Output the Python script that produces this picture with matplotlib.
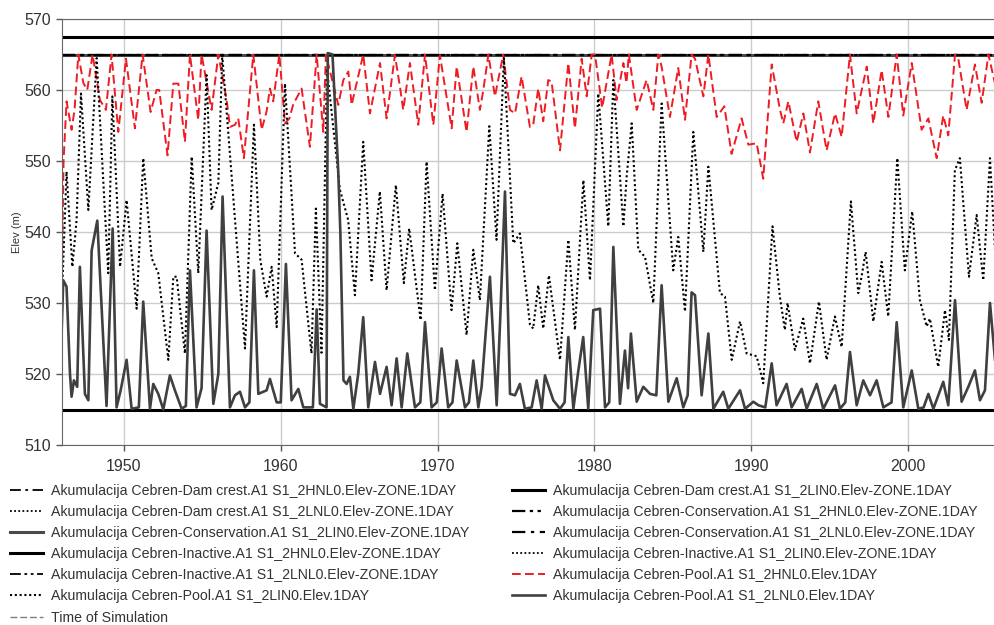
import matplotlib
matplotlib.use("Agg")
import matplotlib.pyplot as plt
from matplotlib.lines import Line2D

plt.rcParams['font.family'] = ['Liberation Sans', 'DejaVu Sans']

# zone elevations (m)
dam_crest_elev = 567.5
conservation_elev = 565.0
inactive_elev = 515.0

# Pool elevation, scenario 2HNL0 (decimal year, m)
hnl0_years = [1946.0, 1946.15, 1946.34, 1946.66, 1946.85, 1947.09, 1947.41, 1947.66, 1948.0, 1948.47,
              1948.85, 1949.21, 1949.64, 1950.13, 1950.70, 1951.19, 1951.70, 1952.08, 1952.25, 1952.78,
              1953.15, 1953.47, 1953.89, 1954.21, 1954.74, 1954.95, 1955.59, 1956.02, 1956.55, 1956.76,
              1957.08, 1957.29, 1957.65, 1958.25, 1958.78, 1959.10, 1959.31, 1959.52, 1959.91, 1960.27,
              1960.55, 1960.80, 1961.33, 1961.86, 1962.29, 1962.71, 1962.88, 1963.67, 1963.99, 1964.31,
              1964.52, 1965.26, 1965.69, 1966.33, 1966.75, 1967.28, 1967.60, 1967.81, 1968.24, 1968.77,
              1969.20, 1969.73, 1970.15, 1970.90, 1971.22, 1971.85, 1972.28, 1972.70, 1972.92, 1973.24,
              1973.66, 1974.19, 1974.62, 1974.94, 1975.36, 1975.89, 1976.10, 1976.42, 1976.74, 1977.06,
              1977.27, 1977.81, 1978.34, 1978.76, 1979.19, 1979.51, 1979.83, 1980.04, 1980.50, 1981.10,
              1981.42, 1981.85, 1982.05, 1982.20, 1982.70, 1983.33, 1983.76, 1984.08, 1984.29, 1984.82,
              1985.35, 1985.78, 1986.20, 1986.42, 1986.95, 1987.27, 1987.80, 1988.29, 1988.75, 1989.39,
              1989.82, 1990.35, 1990.77, 1991.31, 1991.84, 1992.05, 1992.37, 1992.90, 1993.33, 1993.75,
              1994.28, 1994.81, 1995.35, 1995.77, 1996.30, 1996.73, 1997.37, 1997.79, 1998.32, 1998.75,
              1999.28, 1999.70, 2000.24, 2000.87, 2001.30, 2001.83, 2002.25, 2002.57, 2003.00, 2003.21,
              2003.74, 2004.27, 2004.70, 2005.13, 2005.55]
hnl0_elev = [527, 550, 558.4, 554.4, 557.2, 565, 561.0, 560.0, 565, 558.6,
             557.2, 565, 554.1, 564.4, 554.6, 565, 556.9, 560.0, 560.0, 550.8,
             560.9, 560.9, 552.7, 565, 555.8, 565, 557.2, 565, 558.6, 554.8,
             555.1, 556.0, 550.4, 565, 554.4, 557.0, 560.2, 558.4, 565, 555.3,
             556.0, 558.0, 560.2, 552.0, 565, 554.1, 565, 557.9, 561.4, 562.6,
             557.9, 565, 556.7, 563.8, 556.0, 564.9, 560.5, 557.2, 563.8, 555.1,
             565, 555.1, 564.9, 554.6, 563.3, 554.1, 563.3, 557.2, 560.0, 565,
             559.1, 565, 557.2, 556.7, 561.9, 554.8, 555.1, 560.2, 555.6, 561.4,
             561.2, 551.5, 563.8, 554.6, 564.4, 559.1, 565, 565, 557.5, 565,
             558.6, 563.8, 561.0, 565, 557.2, 561.4, 557.2, 565, 563.3, 556.2,
             563.1, 555.8, 565, 564.4, 559.1, 565, 556.2, 557.7, 551.0, 556.0,
             552.3, 552.5, 547.5, 563.6, 557.2, 555.3, 558.4, 552.7, 556.7, 551.2,
             558.4, 551.5, 556.7, 553.4, 565, 556.7, 563.3, 555.3, 562.8, 556.2,
             565, 556.4, 563.8, 554.4, 556.0, 550.4, 556.4, 553.6, 565, 564.4,
             557.2, 563.6, 558.2, 565, 560.9]

# Pool elevation, scenario 2LIN0
lin0_years = [1946.05, 1946.34, 1946.71, 1946.98, 1947.26, 1947.73, 1948.26, 1949.0, 1949.26, 1949.75,
              1950.17, 1950.81, 1951.23, 1951.77, 1952.19, 1952.83, 1953.15, 1953.36, 1953.89, 1954.32,
              1954.74, 1955.27, 1955.59, 1956.02, 1956.27, 1957.72, 1958.29, 1958.70, 1959.10, 1959.42,
              1959.74, 1960.27, 1960.91, 1961.33, 1961.96, 1962.24, 1962.60, 1962.95, 1963.77, 1964.30,
              1964.73, 1965.26, 1965.79, 1966.32, 1966.75, 1967.34, 1967.85, 1968.19, 1968.92, 1969.30,
              1969.83, 1970.32, 1970.89, 1971.26, 1971.85, 1972.28, 1972.70, 1973.30, 1973.76, 1974.23,
              1974.83, 1975.25, 1975.89, 1976.10, 1976.42, 1976.74, 1977.10, 1977.81, 1978.34, 1978.76,
              1979.30, 1979.72, 1980.25, 1980.89, 1981.21, 1981.85, 1982.06, 1982.38, 1982.80, 1983.23,
              1983.76, 1984.29, 1985.03, 1985.35, 1985.78, 1986.31, 1986.95, 1987.27, 1988.01, 1988.33,
              1988.76, 1989.29, 1989.71, 1990.35, 1990.77, 1991.36, 1991.83, 1992.15, 1992.32, 1992.79,
              1993.32, 1993.75, 1994.32, 1994.81, 1995.34, 1995.77, 1996.36, 1996.83, 1997.04, 1997.30,
              1997.79, 1998.32, 1998.74, 1999.32, 1999.80, 2000.27, 2000.76, 2001.19, 2001.40, 2001.93,
              2002.36, 2002.61, 2002.99, 2003.31, 2003.89, 2004.38, 2004.80, 2005.23, 2005.55]
lin0_elev = [531, 548.5, 535.1, 541.7, 559.5, 543.1, 564.5, 534.2, 559.1, 535.1,
             544.5, 529.2, 550.4, 536.3, 534.2, 522.0, 533.7, 533.7, 522.9, 550.6,
             534.2, 562.1, 543.1, 546.9, 564.9, 523.6, 555.1, 536.0, 530.9, 535.1,
             526.6, 560.9, 537.0, 536.1, 522.9, 543.3, 523.0, 563.0, 546.0, 541.7,
             531.1, 552.7, 533.2, 545.7, 531.8, 546.6, 532.8, 540.5, 527.6, 549.9,
             531.8, 545.4, 529.0, 538.4, 525.5, 537.5, 530.4, 554.9, 538.9, 564.5,
             538.4, 539.8, 527.0, 526.4, 532.5, 526.4, 533.9, 522.0, 538.9, 526.2,
             547.3, 533.2, 559.5, 540.8, 561.4, 540.8, 547.8, 555.3, 537.5, 536.5,
             530.0, 558.1, 534.6, 539.3, 528.8, 554.1, 537.2, 549.2, 531.4, 530.9,
             522.0, 527.4, 522.9, 522.5, 518.7, 540.8, 530.9, 526.2, 530.0, 523.4,
             527.8, 521.5, 530.2, 522.0, 528.1, 523.8, 544.3, 531.4, 533.7, 537.2,
             527.4, 535.8, 528.1, 550.4, 534.6, 542.9, 530.4, 526.7, 527.8, 521.0,
             529.0, 524.8, 548.7, 550.4, 533.7, 542.4, 533.2, 550.4, 537.5]

# Pool elevation, scenario 2LNL0
lnl0_years = [1946.0, 1946.13, 1946.34, 1946.56, 1946.66, 1946.81, 1947.02, 1947.19, 1947.51, 1947.73,
              1947.94, 1948.30, 1948.89, 1949.28, 1949.53, 1949.79, 1950.17, 1950.49, 1950.95, 1951.23,
              1951.66, 1951.87, 1952.19, 1952.51, 1952.93, 1953.25, 1953.68, 1953.95, 1954.21, 1954.63,
              1954.95, 1955.27, 1955.70, 1956.02, 1956.29, 1956.76, 1957.08, 1957.40, 1957.72, 1958.00,
              1958.29, 1958.57, 1959.10, 1959.31, 1959.74, 1960.00, 1960.33, 1960.69, 1961.12, 1961.44,
              1962.05, 1962.29, 1962.50, 1962.92, 1963.00, 1963.30, 1963.67, 1963.80, 1964.00, 1964.20,
              1964.41, 1964.63, 1964.94, 1965.26, 1965.58, 1966.01, 1966.33, 1966.75, 1967.07, 1967.39,
              1967.71, 1968.07, 1968.56, 1968.90, 1969.20, 1969.62, 1969.95, 1970.26, 1970.68, 1970.95,
              1971.22, 1971.75, 1972.00, 1972.28, 1972.60, 1972.81, 1973.34, 1973.77, 1974.00, 1974.30,
              1974.62, 1974.94, 1975.25, 1975.57, 1976.00, 1976.32, 1976.64, 1976.85, 1977.38, 1977.81,
              1978.10, 1978.34, 1978.66, 1978.98, 1979.29, 1979.61, 1979.93, 1980.36, 1980.68, 1980.95,
              1981.21, 1981.63, 1981.95, 1982.15, 1982.33, 1982.70, 1983.12, 1983.55, 1983.95, 1984.29,
              1984.72, 1985.25, 1985.67, 1985.95, 1986.20, 1986.42, 1986.84, 1987.27, 1987.59, 1988.22,
              1988.54, 1989.29, 1989.61, 1990.14, 1990.46, 1990.90, 1991.31, 1991.62, 1992.26, 1992.58,
              1993.22, 1993.54, 1994.18, 1994.60, 1995.35, 1995.66, 1996.00, 1996.30, 1996.73, 1997.15,
              1997.58, 1998.00, 1998.43, 1998.95, 1999.28, 1999.70, 2000.24, 2000.66, 2001.00, 2001.30,
              2001.62, 2002.25, 2002.57, 2003.00, 2003.42, 2003.85, 2004.27, 2004.59, 2004.91, 2005.23,
              2005.55]
lnl0_elev = [524, 533.2, 532.3, 520.0, 516.8, 519.1, 518.2, 535.1, 517.2, 516.3,
             537.4, 541.6, 515.5, 540.5, 515.3, 517.7, 522.0, 515.1, 515.3, 530.2,
             515.1, 518.6, 517.2, 515.0, 519.8, 517.7, 515.1, 515.5, 534.6, 515.3,
             518.0, 540.2, 515.8, 520.0, 545.0, 515.3, 517.0, 517.5, 515.3, 516.0,
             534.6, 517.2, 517.7, 519.3, 516.0, 516.0, 535.5, 516.3, 517.9, 515.3,
             515.3, 529.1, 515.8, 515.3, 565.2, 565.0, 548.4, 540.0, 519.1, 518.6,
             519.6, 515.1, 520.0, 528.0, 515.3, 521.7, 517.2, 521.0, 515.6, 522.2,
             515.3, 522.9, 515.3, 516.0, 527.3, 515.3, 516.0, 523.6, 515.3, 516.0,
             521.9, 515.3, 516.0, 521.9, 515.3, 518.2, 533.7, 515.6, 528.0, 545.7,
             517.2, 517.0, 518.6, 515.1, 515.3, 519.1, 515.1, 519.8, 516.3, 515.1,
             516.0, 525.2, 515.1, 520.5, 525.2, 515.1, 529.0, 529.2, 515.3, 516.0,
             537.9, 515.8, 523.3, 518.0, 525.7, 516.1, 518.2, 517.2, 517.0, 532.5,
             516.1, 519.4, 515.3, 517.0, 531.5, 531.1, 517.0, 525.7, 515.1, 517.5,
             515.1, 517.7, 515.1, 516.1, 515.6, 515.3, 521.5, 515.6, 518.6, 515.3,
             517.9, 515.1, 518.6, 515.1, 518.4, 515.1, 516.0, 523.1, 515.6, 519.1,
             517.0, 519.1, 515.3, 516.0, 527.3, 515.3, 520.5, 515.1, 515.3, 517.2,
             515.1, 518.9, 515.6, 530.4, 516.1, 518.2, 520.5, 516.3, 517.7, 530.0,
             522.0]

year_ticks = [1950, 1960, 1970, 1980, 1990, 2000]
elev_ticks = [510, 520, 530, 540, 550, 560, 570]

prefix = "Akumulacija Cebren-"
labels = [
    prefix + "Dam crest.A1 S1_2HNL0.Elev-ZONE.1DAY",
    prefix + "Dam crest.A1 S1_2LIN0.Elev-ZONE.1DAY",
    prefix + "Dam crest.A1 S1_2LNL0.Elev-ZONE.1DAY",
    prefix + "Conservation.A1 S1_2HNL0.Elev-ZONE.1DAY",
    prefix + "Conservation.A1 S1_2LIN0.Elev-ZONE.1DAY",
    prefix + "Conservation.A1 S1_2LNL0.Elev-ZONE.1DAY",
    prefix + "Inactive.A1 S1_2HNL0.Elev-ZONE.1DAY",
    prefix + "Inactive.A1 S1_2LIN0.Elev-ZONE.1DAY",
    prefix + "Inactive.A1 S1_2LNL0.Elev-ZONE.1DAY",
    prefix + "Pool.A1 S1_2HNL0.Elev.1DAY",
    prefix + "Pool.A1 S1_2LIN0.Elev.1DAY",
    prefix + "Pool.A1 S1_2LNL0.Elev.1DAY",
    "Time of Simulation",
]

dashdot = (6, 2.5, 1.5, 2.5)
dashdotdot = (6, 2, 1.5, 2, 1.5, 2)
dotted = (1, 1.3)

fig = plt.figure(figsize=(9.95, 6.25), dpi=100)
ax = fig.add_axes([62 / 995, 1 - 445 / 625, 933 / 995, 426 / 625])

# zone lines (three scenarios overlap on each zone)
h = [None] * 13
h[1] = ax.axhline(dam_crest_elev, color='black', lw=2.2)
h[0] = ax.axhline(dam_crest_elev, color='black', lw=1.3, dashes=dashdot)
h[2] = ax.axhline(dam_crest_elev, color='black', lw=1.3, dashes=dotted)
h[4] = ax.axhline(conservation_elev, color='#4a4a4a', lw=2.2)
h[3] = ax.axhline(conservation_elev, color='black', lw=1.6, dashes=dashdotdot)
h[5] = ax.axhline(conservation_elev, color='black', lw=1.6, dashes=dashdot)
h[6] = ax.axhline(inactive_elev, color='black', lw=2.2)
h[7] = ax.axhline(inactive_elev, color='black', lw=1.3, dashes=dotted)
h[8] = ax.axhline(inactive_elev, color='black', lw=1.3, dashes=dashdotdot)

h[9] = ax.plot(hnl0_years, hnl0_elev, color='#ee1c24', lw=1.4, dashes=(4.5, 2.2))[0]
h[10] = ax.plot(lin0_years, lin0_elev, color='black', lw=1.5, dashes=dotted)[0]
h[11] = ax.plot(lnl0_years, lnl0_elev, color='#404040', lw=1.9)[0]
h[12] = Line2D([], [], color='#808080', lw=1.0, dashes=(5, 2))

ax.set_xlim(1946.05, 2005.55)
ax.set_ylim(510, 570)
ax.set_xticks(year_ticks)
ax.set_yticks(elev_ticks)
ax.grid(True, color='#cccccc', lw=1.0)
ax.set_axisbelow(True)
for side in ['left', 'bottom', 'top']:
    ax.spines[side].set_color('#666666')
ax.spines['right'].set_visible(False)
ax.tick_params(direction='out', length=4, width=1, color='#555555',
               labelsize=11.5, labelcolor='#333333', pad=4)
ax.tick_params(axis='x', pad=6)
ax.set_ylabel('Elev (m)', fontsize=8, color='#333333')
ax.yaxis.set_label_coords(-0.043, 0.5)

# the original legend is filled row by row -> reorder for column filling
order = list(range(0, 13, 2)) + list(range(1, 13, 2))
fig.legend([h[i] for i in order], [labels[i] for i in order],
           loc='upper left', bbox_to_anchor=(10 / 995, 1 - 484 / 625),
           ncol=2, frameon=False, fontsize=10.2, labelcolor='#333333',
           handlelength=2.3, handletextpad=0.6, columnspacing=3.0,
           labelspacing=0.5, borderpad=0, borderaxespad=0)

fig.savefig('out.png', dpi=100)
